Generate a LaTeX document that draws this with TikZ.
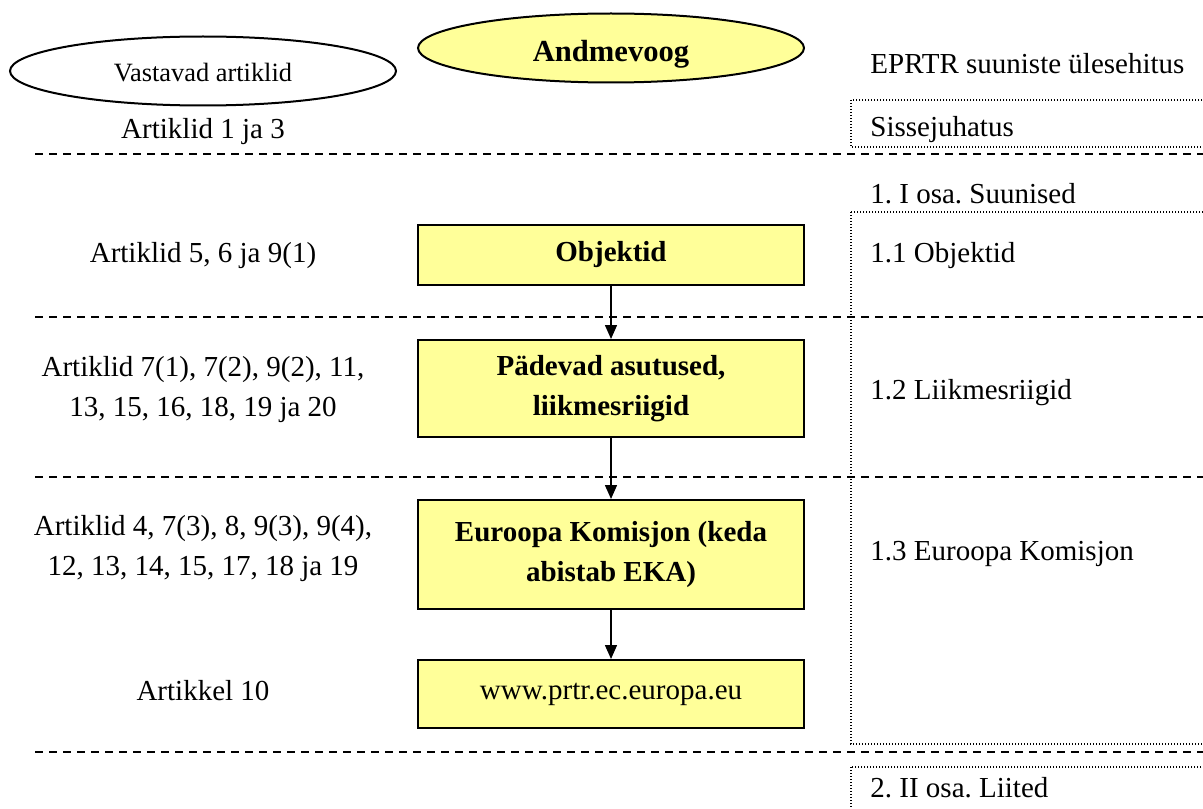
\documentclass[tikz,border=0pt]{standalone}
\usepackage{fontspec}
\setmainfont{Liberation Serif}
\usetikzlibrary{shapes.geometric,arrows.meta}
\definecolor{boxyellow}{HTML}{FFFF99}
\frenchspacing
\begin{document}
\begin{tikzpicture}[x=0.5pt,y=-0.5pt,
 txt/.style={font=\fontsize{14.5}{20}\selectfont, inner sep=0pt, align=center},
 rlabel/.style={txt, anchor=west},
 flowbox/.style={draw, line width=1pt, fill=boxyellow, minimum width=193pt, font=\fontsize{14.5}{20}\selectfont\bfseries, align=center, inner sep=0pt},
 oval/.style={ellipse, draw, line width=1pt, minimum width=193pt, minimum height=34.5pt, inner sep=0pt},
 sep/.style={dash pattern=on 4pt off 3pt, line width=0.7pt},
 dotbox/.style={dash pattern=on 0.5pt off 1pt, line width=0.6pt},
 flow/.style={-{Triangle[width=6pt,length=7pt]}, line width=0.75pt}]
\useasboundingbox (0,0) rectangle (1203,808);
\clip (0,0) rectangle (1203,808);

% ovals
\node[oval, font=\fontsize{13.2}{16}\selectfont] (vast) at (203,71) {\raisebox{-1pt}[\height][\depth]{Vastavad artiklid}};
\node[oval, fill=boxyellow, font=\fontsize{15.3}{18}\selectfont\bfseries] (andm) at (611,48) {\raisebox{-3pt}[\height][\depth]{Andmevoog}};

% right column header
\node[rlabel] (eprtr) at (870,64) {EPRTR suuniste ülesehitus};

% dotted boxes
\draw[dotbox] (851,100) rectangle (1215,147);
\draw[dotbox] (851,212) rectangle (1215,744);
\draw[dotbox] (851,767) rectangle (1215,830);

% separators
\draw[sep] (35,154) -- (1210,154);
\draw[sep] (35,317) -- (1210,317);
\draw[sep] (35,477) -- (1210,477);
\draw[sep] (35,752) -- (1210,752);

% left labels
\node[txt] (a13) at (203,132) {Artiklid 1 ja 3};
\node[txt] (a569) at (203,256) {Artiklid 5, 6 ja 9(1)};
\node[txt] (a7) at (203,390) {Artiklid 7(1), 7(2), 9(2), 11,\\13, 15, 16, 18, 19 ja 20};
\node[txt] (a4) at (203,549) {Artiklid 4, 7(3), 8, 9(3), 9(4),\\12, 13, 14, 15, 17, 18 ja 19};
\node[txt] (a10) at (203,691) {Artikkel 10};

% right labels
\node[rlabel] (sissej) at (870,130) {Sissejuhatus};
\node[rlabel] (osa1) at (870,194) {1. I osa. Suunised};
\node[rlabel] (r11) at (870,256) {1.1 Objektid};
\node[rlabel] (r12) at (870,393) {1.2 Liikmesriigid};
\node[rlabel] (r13) at (870,554) {1.3 Euroopa Komisjon};
\node[rlabel] (osa2) at (870,788) {2. II osa. Liited};

% flow boxes
\node[flowbox, minimum height=30pt] (obj) at (611,255) {Objektid};
\node[flowbox, minimum height=48.5pt] (pad) at (611,388.5) {Pädevad asutused,\\liikmesriigid};
\node[flowbox, minimum height=54.5pt] (ek) at (611,554.5) {Euroopa Komisjon (keda\\abistab EKA)};
\node[flowbox, minimum height=34pt, font=\fontsize{14.5}{20}\selectfont] (www) at (611,694) {www.prtr.ec.europa.eu};

% arrows
\draw[flow] (obj) -- (pad);
\draw[flow] (pad) -- (ek);
\draw[flow] (ek) -- (www);
\end{tikzpicture}
\end{document}
